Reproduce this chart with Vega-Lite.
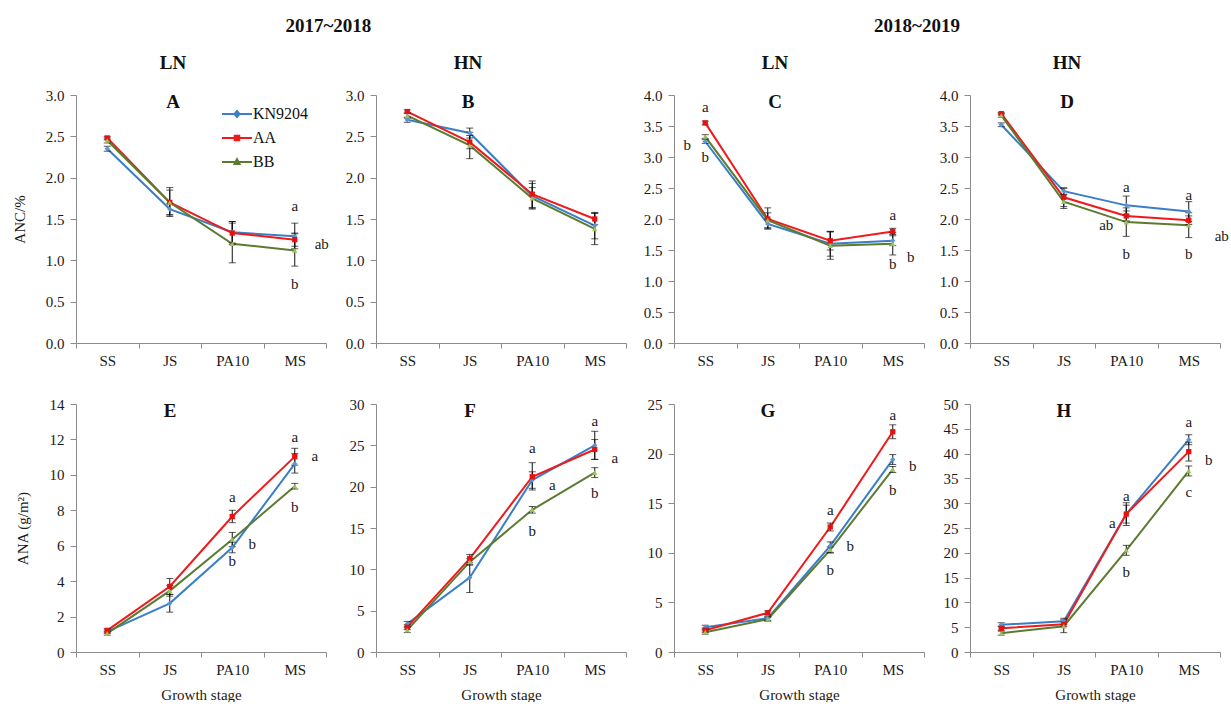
{
  "$schema": "https://vega.github.io/schema/vega-lite/v6.json",
  "autosize": {"type": "pad"},
  "padding": {"left": 12, "top": 17, "right": 2, "bottom": 0},
  "background": "white",
  "datasets": {
    "pts": [
      {"p": "A", "s": "SS", "g": "KN9204", "v": 2.35, "lo": 2.32, "hi": 2.38},
      {"p": "A", "s": "SS", "g": "AA", "v": 2.48, "lo": 2.46, "hi": 2.5},
      {"p": "A", "s": "SS", "g": "BB", "v": 2.45, "lo": 2.42, "hi": 2.48},
      {"p": "A", "s": "JS", "g": "KN9204", "v": 1.62, "lo": 1.55, "hi": 1.69},
      {"p": "A", "s": "JS", "g": "AA", "v": 1.7, "lo": 1.55, "hi": 1.85},
      {"p": "A", "s": "JS", "g": "BB", "v": 1.7, "lo": 1.53, "hi": 1.88},
      {"p": "A", "s": "PA10", "g": "KN9204", "v": 1.34, "lo": 1.21, "hi": 1.47},
      {"p": "A", "s": "PA10", "g": "AA", "v": 1.33, "lo": 1.19, "hi": 1.47},
      {"p": "A", "s": "PA10", "g": "BB", "v": 1.2, "lo": 0.97, "hi": 1.45},
      {"p": "A", "s": "MS", "g": "KN9204", "v": 1.29, "lo": 1.14, "hi": 1.45},
      {"p": "A", "s": "MS", "g": "AA", "v": 1.25, "lo": 1.17, "hi": 1.33},
      {"p": "A", "s": "MS", "g": "BB", "v": 1.12, "lo": 0.93, "hi": 1.32},

      {"p": "B", "s": "SS", "g": "KN9204", "v": 2.7, "lo": 2.67, "hi": 2.73},
      {"p": "B", "s": "SS", "g": "AA", "v": 2.8, "lo": 2.78, "hi": 2.82},
      {"p": "B", "s": "SS", "g": "BB", "v": 2.75, "lo": 2.72, "hi": 2.78},
      {"p": "B", "s": "JS", "g": "KN9204", "v": 2.54, "lo": 2.48, "hi": 2.6},
      {"p": "B", "s": "JS", "g": "AA", "v": 2.43, "lo": 2.35, "hi": 2.51},
      {"p": "B", "s": "JS", "g": "BB", "v": 2.39, "lo": 2.23, "hi": 2.55},
      {"p": "B", "s": "PA10", "g": "KN9204", "v": 1.78, "lo": 1.63, "hi": 1.93},
      {"p": "B", "s": "PA10", "g": "AA", "v": 1.8, "lo": 1.64, "hi": 1.96},
      {"p": "B", "s": "PA10", "g": "BB", "v": 1.75, "lo": 1.62, "hi": 1.88},
      {"p": "B", "s": "MS", "g": "KN9204", "v": 1.42, "lo": 1.26, "hi": 1.58},
      {"p": "B", "s": "MS", "g": "AA", "v": 1.5, "lo": 1.43, "hi": 1.57},
      {"p": "B", "s": "MS", "g": "BB", "v": 1.38, "lo": 1.19, "hi": 1.57},

      {"p": "C", "s": "SS", "g": "KN9204", "v": 3.25, "lo": 3.22, "hi": 3.28},
      {"p": "C", "s": "SS", "g": "AA", "v": 3.55, "lo": 3.52, "hi": 3.58},
      {"p": "C", "s": "SS", "g": "BB", "v": 3.33, "lo": 3.3, "hi": 3.36},
      {"p": "C", "s": "JS", "g": "KN9204", "v": 1.92, "lo": 1.84, "hi": 2.0},
      {"p": "C", "s": "JS", "g": "AA", "v": 2.0, "lo": 1.84, "hi": 2.18},
      {"p": "C", "s": "JS", "g": "BB", "v": 1.98, "lo": 1.86, "hi": 2.1},
      {"p": "C", "s": "PA10", "g": "KN9204", "v": 1.6, "lo": 1.4, "hi": 1.8},
      {"p": "C", "s": "PA10", "g": "AA", "v": 1.65, "lo": 1.5, "hi": 1.8},
      {"p": "C", "s": "PA10", "g": "BB", "v": 1.57, "lo": 1.35, "hi": 1.79},
      {"p": "C", "s": "MS", "g": "KN9204", "v": 1.65, "lo": 1.57, "hi": 1.73},
      {"p": "C", "s": "MS", "g": "AA", "v": 1.8, "lo": 1.75, "hi": 1.85},
      {"p": "C", "s": "MS", "g": "BB", "v": 1.6, "lo": 1.42, "hi": 1.78},

      {"p": "D", "s": "SS", "g": "KN9204", "v": 3.52, "lo": 3.49, "hi": 3.55},
      {"p": "D", "s": "SS", "g": "AA", "v": 3.7, "lo": 3.68, "hi": 3.72},
      {"p": "D", "s": "SS", "g": "BB", "v": 3.67, "lo": 3.64, "hi": 3.7},
      {"p": "D", "s": "JS", "g": "KN9204", "v": 2.45, "lo": 2.4, "hi": 2.5},
      {"p": "D", "s": "JS", "g": "AA", "v": 2.35, "lo": 2.2, "hi": 2.5},
      {"p": "D", "s": "JS", "g": "BB", "v": 2.28, "lo": 2.17, "hi": 2.39},
      {"p": "D", "s": "PA10", "g": "KN9204", "v": 2.22, "lo": 2.07, "hi": 2.37},
      {"p": "D", "s": "PA10", "g": "AA", "v": 2.05, "lo": 1.97, "hi": 2.13},
      {"p": "D", "s": "PA10", "g": "BB", "v": 1.95, "lo": 1.72, "hi": 2.18},
      {"p": "D", "s": "MS", "g": "KN9204", "v": 2.12, "lo": 1.96, "hi": 2.28},
      {"p": "D", "s": "MS", "g": "AA", "v": 1.98, "lo": 1.91, "hi": 2.05},
      {"p": "D", "s": "MS", "g": "BB", "v": 1.9, "lo": 1.7, "hi": 2.1},

      {"p": "E", "s": "SS", "g": "KN9204", "v": 1.15, "lo": 1.05, "hi": 1.25},
      {"p": "E", "s": "SS", "g": "AA", "v": 1.22, "lo": 1.12, "hi": 1.32},
      {"p": "E", "s": "SS", "g": "BB", "v": 1.05, "lo": 0.95, "hi": 1.15},
      {"p": "E", "s": "JS", "g": "KN9204", "v": 2.75, "lo": 2.25, "hi": 3.25},
      {"p": "E", "s": "JS", "g": "AA", "v": 3.7, "lo": 3.25, "hi": 4.15},
      {"p": "E", "s": "JS", "g": "BB", "v": 3.45, "lo": 3.15, "hi": 3.75},
      {"p": "E", "s": "PA10", "g": "KN9204", "v": 5.9, "lo": 5.6, "hi": 6.2},
      {"p": "E", "s": "PA10", "g": "AA", "v": 7.65, "lo": 7.3, "hi": 8.0},
      {"p": "E", "s": "PA10", "g": "BB", "v": 6.35, "lo": 5.95, "hi": 6.75},
      {"p": "E", "s": "MS", "g": "KN9204", "v": 10.62, "lo": 10.1, "hi": 11.2},
      {"p": "E", "s": "MS", "g": "AA", "v": 11.03, "lo": 10.55, "hi": 11.5},
      {"p": "E", "s": "MS", "g": "BB", "v": 9.36, "lo": 9.2, "hi": 9.52},

      {"p": "F", "s": "SS", "g": "KN9204", "v": 3.4, "lo": 3.1, "hi": 3.7},
      {"p": "F", "s": "SS", "g": "AA", "v": 3.0, "lo": 2.7, "hi": 3.3},
      {"p": "F", "s": "SS", "g": "BB", "v": 2.65, "lo": 2.35, "hi": 2.95},
      {"p": "F", "s": "JS", "g": "KN9204", "v": 9.0, "lo": 7.2, "hi": 10.6},
      {"p": "F", "s": "JS", "g": "AA", "v": 11.3, "lo": 10.8, "hi": 11.8},
      {"p": "F", "s": "JS", "g": "BB", "v": 10.9, "lo": 10.5, "hi": 11.3},
      {"p": "F", "s": "PA10", "g": "KN9204", "v": 20.8, "lo": 19.8, "hi": 21.8},
      {"p": "F", "s": "PA10", "g": "AA", "v": 21.2, "lo": 19.6, "hi": 22.9},
      {"p": "F", "s": "PA10", "g": "BB", "v": 17.2, "lo": 16.8, "hi": 17.6},
      {"p": "F", "s": "MS", "g": "KN9204", "v": 25.0, "lo": 23.3, "hi": 26.7},
      {"p": "F", "s": "MS", "g": "AA", "v": 24.5, "lo": 23.3, "hi": 25.7},
      {"p": "F", "s": "MS", "g": "BB", "v": 21.7, "lo": 21.1, "hi": 22.3},

      {"p": "G", "s": "SS", "g": "KN9204", "v": 2.5, "lo": 2.3, "hi": 2.7},
      {"p": "G", "s": "SS", "g": "AA", "v": 2.2, "lo": 2.0, "hi": 2.4},
      {"p": "G", "s": "SS", "g": "BB", "v": 2.0, "lo": 1.8, "hi": 2.2},
      {"p": "G", "s": "JS", "g": "KN9204", "v": 3.4, "lo": 3.2, "hi": 3.6},
      {"p": "G", "s": "JS", "g": "AA", "v": 3.95, "lo": 3.75, "hi": 4.15},
      {"p": "G", "s": "JS", "g": "BB", "v": 3.3, "lo": 3.1, "hi": 3.5},
      {"p": "G", "s": "PA10", "g": "KN9204", "v": 10.7, "lo": 10.0, "hi": 11.1},
      {"p": "G", "s": "PA10", "g": "AA", "v": 12.6, "lo": 12.2, "hi": 13.0},
      {"p": "G", "s": "PA10", "g": "BB", "v": 10.3, "lo": 10.0, "hi": 10.6},
      {"p": "G", "s": "MS", "g": "KN9204", "v": 19.4, "lo": 18.9, "hi": 19.9},
      {"p": "G", "s": "MS", "g": "AA", "v": 22.2, "lo": 21.5, "hi": 22.9},
      {"p": "G", "s": "MS", "g": "BB", "v": 18.4, "lo": 18.1, "hi": 18.7},

      {"p": "H", "s": "SS", "g": "KN9204", "v": 5.5, "lo": 5.1, "hi": 5.9},
      {"p": "H", "s": "SS", "g": "AA", "v": 4.8, "lo": 4.4, "hi": 5.2},
      {"p": "H", "s": "SS", "g": "BB", "v": 3.8, "lo": 3.4, "hi": 4.2},
      {"p": "H", "s": "JS", "g": "KN9204", "v": 6.2, "lo": 5.6, "hi": 6.8},
      {"p": "H", "s": "JS", "g": "AA", "v": 5.6, "lo": 5.1, "hi": 6.1},
      {"p": "H", "s": "JS", "g": "BB", "v": 5.2, "lo": 3.9, "hi": 6.5},
      {"p": "H", "s": "PA10", "g": "KN9204", "v": 27.8, "lo": 25.5, "hi": 30.1},
      {"p": "H", "s": "PA10", "g": "AA", "v": 27.8, "lo": 26.0, "hi": 29.6},
      {"p": "H", "s": "PA10", "g": "BB", "v": 20.5, "lo": 19.5, "hi": 21.5},
      {"p": "H", "s": "MS", "g": "KN9204", "v": 42.8, "lo": 41.8, "hi": 43.8},
      {"p": "H", "s": "MS", "g": "AA", "v": 40.4, "lo": 38.5, "hi": 42.3},
      {"p": "H", "s": "MS", "g": "BB", "v": 36.5, "lo": 35.5, "hi": 37.5}
    ],
    "lab": [
      {"p": "A", "s": "MS", "t": "a", "y": 1.66, "side": "c"},
      {"p": "A", "s": "MS", "t": "b", "y": 0.71, "side": "c"},
      {"p": "A", "s": "MS", "t": "ab", "y": 1.2, "side": "f"},
      {"p": "C", "s": "SS", "t": "a", "y": 3.8, "side": "c"},
      {"p": "C", "s": "SS", "t": "b", "y": 3.0, "side": "c"},
      {"p": "C", "s": "SS", "t": "b", "y": 3.2, "side": "l"},
      {"p": "C", "s": "MS", "t": "a", "y": 2.06, "side": "c"},
      {"p": "C", "s": "MS", "t": "b", "y": 1.28, "side": "c"},
      {"p": "C", "s": "MS", "t": "b", "y": 1.39, "side": "r"},
      {"p": "D", "s": "PA10", "t": "a", "y": 2.51, "side": "c"},
      {"p": "D", "s": "PA10", "t": "b", "y": 1.44, "side": "c"},
      {"p": "D", "s": "PA10", "t": "ab", "y": 1.91, "side": "l"},
      {"p": "D", "s": "MS", "t": "a", "y": 2.39, "side": "c"},
      {"p": "D", "s": "MS", "t": "b", "y": 1.44, "side": "c"},
      {"p": "D", "s": "MS", "t": "ab", "y": 1.72, "side": "f"},
      {"p": "E", "s": "PA10", "t": "a", "y": 8.74, "side": "c"},
      {"p": "E", "s": "PA10", "t": "b", "y": 5.11, "side": "c"},
      {"p": "E", "s": "PA10", "t": "b", "y": 6.1, "side": "r"},
      {"p": "E", "s": "MS", "t": "a", "y": 12.12, "side": "c"},
      {"p": "E", "s": "MS", "t": "b", "y": 8.18, "side": "c"},
      {"p": "E", "s": "MS", "t": "a", "y": 11.05, "side": "r"},
      {"p": "F", "s": "PA10", "t": "a", "y": 24.7, "side": "c"},
      {"p": "F", "s": "PA10", "t": "b", "y": 14.65, "side": "c"},
      {"p": "F", "s": "PA10", "t": "a", "y": 20.2, "side": "r"},
      {"p": "F", "s": "MS", "t": "a", "y": 27.9, "side": "c"},
      {"p": "F", "s": "MS", "t": "b", "y": 19.2, "side": "c"},
      {"p": "F", "s": "MS", "t": "a", "y": 23.5, "side": "r"},
      {"p": "G", "s": "PA10", "t": "a", "y": 14.3, "side": "c"},
      {"p": "G", "s": "PA10", "t": "b", "y": 8.3, "side": "c"},
      {"p": "G", "s": "PA10", "t": "b", "y": 10.7, "side": "r"},
      {"p": "G", "s": "MS", "t": "a", "y": 23.9, "side": "c"},
      {"p": "G", "s": "MS", "t": "b", "y": 16.3, "side": "c"},
      {"p": "G", "s": "MS", "t": "b", "y": 18.7, "side": "r"},
      {"p": "H", "s": "PA10", "t": "a", "y": 31.4, "side": "c"},
      {"p": "H", "s": "PA10", "t": "b", "y": 16.2, "side": "c"},
      {"p": "H", "s": "PA10", "t": "a", "y": 26.1, "side": "l"},
      {"p": "H", "s": "MS", "t": "a", "y": 46.4, "side": "c"},
      {"p": "H", "s": "MS", "t": "c", "y": 32.2, "side": "c"},
      {"p": "H", "s": "MS", "t": "b", "y": 38.7, "side": "r"}
    ]
  },
  "spacing": 16,
  "hconcat": [
    {
      "title": {"text": "2017~2018", "anchor": "middle", "offset": 18, "dx": 9},
      "columns": 2,
      "bounds": "flush",
      "spacing": {"row": 61, "column": 50},
      "resolve": {"legend": {"shape": "independent", "fill": "independent", "stroke": "independent"}},
      "concat": [
        {
          "width": 250, "height": 248,
          "title": {"text": "LN", "subtitle": "A", "frame": "group", "dx": -28, "offset": -24, "subtitlePadding": 20},
          "data": {"name": "pts"},
          "transform": [{"filter": "datum.p === 'A'"}],
          "encoding": {"x": {"field": "s", "type": "nominal", "sort": ["SS", "JS", "PA10", "MS"], "scale": {"type": "band", "paddingInner": 0, "paddingOuter": 0}, "axis": {"title": null, "labelAngle": 0, "tickBand": "extent"}}},
          "layer": [
            {"mark": {"type": "line"}, "encoding": {"y": {"field": "v", "type": "quantitative", "title": "ANC/%", "scale": {"domain": [0, 3], "nice": false}, "axis": {"values": [0, 0.5, 1, 1.5, 2, 2.5, 3], "tickCount": 20, "format": ".1f", "titlePadding": 18}}, "color": {"field": "g", "type": "nominal", "scale": {"domain": ["KN9204", "AA", "BB"], "range": ["#3A7FC6", "#F01A1A", "#5B7B31"]}, "legend": null}}},
            {"mark": {"type": "errorbar", "thickness": 1, "rule": {"color": "#111"}, "ticks": {"size": 7, "color": "#111"}}, "encoding": {"y": {"field": "lo", "type": "quantitative", "title": "ANC/%", "scale": {"domain": [0, 3], "nice": false}}, "y2": {"field": "hi"}}},
            {"transform": [{"filter": "datum.g === 'KN9204'"}], "mark": {"type": "point", "shape": "diamond", "color": "#5A95D5"}, "encoding": {"y": {"field": "v", "type": "quantitative", "title": "ANC/%", "scale": {"domain": [0, 3], "nice": false}}}},
            {"transform": [{"filter": "datum.g === 'AA'"}], "mark": {"type": "point", "shape": "square", "color": "#E81010"}, "encoding": {"y": {"field": "v", "type": "quantitative", "title": "ANC/%", "scale": {"domain": [0, 3], "nice": false}}}},
            {"transform": [{"filter": "datum.g === 'BB'"}], "mark": {"type": "point", "shape": "triangle-up", "color": "#9DC05A"}, "encoding": {"y": {"field": "v", "type": "quantitative", "title": "ANC/%", "scale": {"domain": [0, 3], "nice": false}}}},
            {"transform": [{"filter": "datum.p === 'legend only'"}], "mark": {"type": "point", "filled": true, "strokeWidth": 2},
              "encoding": {
                "y": {"field": "v", "type": "quantitative", "title": "ANC/%", "scale": {"domain": [0, 3], "nice": false}},
                "shape": {"field": "g", "type": "nominal", "scale": {"domain": ["KN9204", "AA", "BB"], "range": ["M-3,0H3M0,-0.6L0.5,0L0,0.6L-0.5,0Z", "M-3,0H3M-0.45,-0.45H0.45V0.45H-0.45Z", "M-3,0H3M0,-0.55L0.5,0.4H-0.5Z"]},
                  "legend": {"orient": "none", "legendX": 153, "legendY": 11, "title": null, "symbolSize": 100, "symbolStrokeWidth": 2, "symbolOpacity": 1, "labelOffset": 8, "labelFontSize": 16, "labelFont": "Liberation Serif", "labelColor": "#111", "rowPadding": 8}},
                "fill": {"field": "g", "type": "nominal", "scale": {"domain": ["KN9204", "AA", "BB"], "range": ["#5A95D5", "#E81010", "#9DC05A"]},
                  "legend": {"orient": "none", "legendX": 153, "legendY": 11, "title": null, "symbolSize": 100, "symbolStrokeWidth": 2, "symbolOpacity": 1, "labelOffset": 8, "labelFontSize": 16, "labelFont": "Liberation Serif", "labelColor": "#111", "rowPadding": 8}},
                "stroke": {"field": "g", "type": "nominal", "scale": {"domain": ["KN9204", "AA", "BB"], "range": ["#3A7FC6", "#F01A1A", "#5B7B31"]},
                  "legend": {"orient": "none", "legendX": 153, "legendY": 11, "title": null, "symbolSize": 100, "symbolStrokeWidth": 2, "symbolOpacity": 1, "labelOffset": 8, "labelFontSize": 16, "labelFont": "Liberation Serif", "labelColor": "#111", "rowPadding": 8}}
              }},
            {"data": {"name": "lab"}, "transform": [{"filter": "datum.p === 'A' && datum.side === 'c'"}], "mark": {"type": "text"}, "encoding": {"y": {"field": "y", "type": "quantitative", "title": "ANC/%", "scale": {"domain": [0, 3], "nice": false}}, "text": {"field": "t"}}},
            {"data": {"name": "lab"}, "transform": [{"filter": "datum.p === 'A' && datum.side === 'f'"}], "mark": {"type": "text", "dx": 27}, "encoding": {"y": {"field": "y", "type": "quantitative", "title": "ANC/%", "scale": {"domain": [0, 3], "nice": false}}, "text": {"field": "t"}}}
          ]
        },
        {
          "width": 250, "height": 248,
          "title": {"text": "HN", "subtitle": "B", "frame": "group", "dx": -33, "offset": -24, "subtitlePadding": 20},
          "data": {"name": "pts"},
          "transform": [{"filter": "datum.p === 'B'"}],
          "encoding": {"x": {"field": "s", "type": "nominal", "sort": ["SS", "JS", "PA10", "MS"], "scale": {"type": "band", "paddingInner": 0, "paddingOuter": 0}, "axis": {"title": null, "labelAngle": 0, "tickBand": "extent"}}},
          "layer": [
            {"mark": {"type": "line"}, "encoding": {"y": {"field": "v", "type": "quantitative", "title": null, "scale": {"domain": [0, 3], "nice": false}, "axis": {"values": [0, 0.5, 1, 1.5, 2, 2.5, 3], "tickCount": 20, "format": ".1f"}}, "color": {"field": "g", "type": "nominal", "scale": {"domain": ["KN9204", "AA", "BB"], "range": ["#3A7FC6", "#F01A1A", "#5B7B31"]}, "legend": null}}},
            {"mark": {"type": "errorbar", "thickness": 1, "rule": {"color": "#111"}, "ticks": {"size": 7, "color": "#111"}}, "encoding": {"y": {"field": "lo", "type": "quantitative", "title": null, "scale": {"domain": [0, 3], "nice": false}}, "y2": {"field": "hi"}}},
            {"transform": [{"filter": "datum.g === 'KN9204'"}], "mark": {"type": "point", "shape": "diamond", "color": "#5A95D5"}, "encoding": {"y": {"field": "v", "type": "quantitative", "title": null, "scale": {"domain": [0, 3], "nice": false}}}},
            {"transform": [{"filter": "datum.g === 'AA'"}], "mark": {"type": "point", "shape": "square", "color": "#E81010"}, "encoding": {"y": {"field": "v", "type": "quantitative", "title": null, "scale": {"domain": [0, 3], "nice": false}}}},
            {"transform": [{"filter": "datum.g === 'BB'"}], "mark": {"type": "point", "shape": "triangle-up", "color": "#9DC05A"}, "encoding": {"y": {"field": "v", "type": "quantitative", "title": null, "scale": {"domain": [0, 3], "nice": false}}}}
          ]
        },
        {
          "width": 250, "height": 248,
          "title": {"text": "E", "frame": "group", "dx": -31, "offset": -24},
          "data": {"name": "pts"},
          "transform": [{"filter": "datum.p === 'E'"}],
          "encoding": {"x": {"field": "s", "type": "nominal", "sort": ["SS", "JS", "PA10", "MS"], "scale": {"type": "band", "paddingInner": 0, "paddingOuter": 0}, "axis": {"title": "Growth stage", "labelAngle": 0, "tickBand": "extent"}}},
          "layer": [
            {"mark": {"type": "line"}, "encoding": {"y": {"field": "v", "type": "quantitative", "title": "ANA (g/m²)", "scale": {"domain": [0, 14], "nice": false}, "axis": {"values": [0, 2, 4, 6, 8, 10, 12, 14], "tickCount": 20, "format": "d", "titlePadding": 19}}, "color": {"field": "g", "type": "nominal", "scale": {"domain": ["KN9204", "AA", "BB"], "range": ["#3A7FC6", "#F01A1A", "#5B7B31"]}, "legend": null}}},
            {"mark": {"type": "errorbar", "thickness": 1, "rule": {"color": "#111"}, "ticks": {"size": 7, "color": "#111"}}, "encoding": {"y": {"field": "lo", "type": "quantitative", "title": "ANA (g/m²)", "scale": {"domain": [0, 14], "nice": false}}, "y2": {"field": "hi"}}},
            {"transform": [{"filter": "datum.g === 'KN9204'"}], "mark": {"type": "point", "shape": "diamond", "color": "#5A95D5"}, "encoding": {"y": {"field": "v", "type": "quantitative", "title": "ANA (g/m²)", "scale": {"domain": [0, 14], "nice": false}}}},
            {"transform": [{"filter": "datum.g === 'AA'"}], "mark": {"type": "point", "shape": "square", "color": "#E81010"}, "encoding": {"y": {"field": "v", "type": "quantitative", "title": "ANA (g/m²)", "scale": {"domain": [0, 14], "nice": false}}}},
            {"transform": [{"filter": "datum.g === 'BB'"}], "mark": {"type": "point", "shape": "triangle-up", "color": "#9DC05A"}, "encoding": {"y": {"field": "v", "type": "quantitative", "title": "ANA (g/m²)", "scale": {"domain": [0, 14], "nice": false}}}},
            {"data": {"name": "lab"}, "transform": [{"filter": "datum.p === 'E' && datum.side === 'c'"}], "mark": {"type": "text"}, "encoding": {"y": {"field": "y", "type": "quantitative", "title": "ANA (g/m²)", "scale": {"domain": [0, 14], "nice": false}}, "text": {"field": "t"}}},
            {"data": {"name": "lab"}, "transform": [{"filter": "datum.p === 'E' && datum.side === 'r'"}], "mark": {"type": "text", "dx": 20}, "encoding": {"y": {"field": "y", "type": "quantitative", "title": "ANA (g/m²)", "scale": {"domain": [0, 14], "nice": false}}, "text": {"field": "t"}}}
          ]
        },
        {
          "width": 250, "height": 248,
          "title": {"text": "F", "frame": "group", "dx": -31, "offset": -24},
          "data": {"name": "pts"},
          "transform": [{"filter": "datum.p === 'F'"}],
          "encoding": {"x": {"field": "s", "type": "nominal", "sort": ["SS", "JS", "PA10", "MS"], "scale": {"type": "band", "paddingInner": 0, "paddingOuter": 0}, "axis": {"title": "Growth stage", "labelAngle": 0, "tickBand": "extent"}}},
          "layer": [
            {"mark": {"type": "line"}, "encoding": {"y": {"field": "v", "type": "quantitative", "title": null, "scale": {"domain": [0, 30], "nice": false}, "axis": {"values": [0, 5, 10, 15, 20, 25, 30], "tickCount": 20, "format": "d"}}, "color": {"field": "g", "type": "nominal", "scale": {"domain": ["KN9204", "AA", "BB"], "range": ["#3A7FC6", "#F01A1A", "#5B7B31"]}, "legend": null}}},
            {"mark": {"type": "errorbar", "thickness": 1, "rule": {"color": "#111"}, "ticks": {"size": 7, "color": "#111"}}, "encoding": {"y": {"field": "lo", "type": "quantitative", "title": null, "scale": {"domain": [0, 30], "nice": false}}, "y2": {"field": "hi"}}},
            {"transform": [{"filter": "datum.g === 'KN9204'"}], "mark": {"type": "point", "shape": "diamond", "color": "#5A95D5"}, "encoding": {"y": {"field": "v", "type": "quantitative", "title": null, "scale": {"domain": [0, 30], "nice": false}}}},
            {"transform": [{"filter": "datum.g === 'AA'"}], "mark": {"type": "point", "shape": "square", "color": "#E81010"}, "encoding": {"y": {"field": "v", "type": "quantitative", "title": null, "scale": {"domain": [0, 30], "nice": false}}}},
            {"transform": [{"filter": "datum.g === 'BB'"}], "mark": {"type": "point", "shape": "triangle-up", "color": "#9DC05A"}, "encoding": {"y": {"field": "v", "type": "quantitative", "title": null, "scale": {"domain": [0, 30], "nice": false}}}},
            {"data": {"name": "lab"}, "transform": [{"filter": "datum.p === 'F' && datum.side === 'c'"}], "mark": {"type": "text"}, "encoding": {"y": {"field": "y", "type": "quantitative", "title": null, "scale": {"domain": [0, 30], "nice": false}}, "text": {"field": "t"}}},
            {"data": {"name": "lab"}, "transform": [{"filter": "datum.p === 'F' && datum.side === 'r'"}], "mark": {"type": "text", "dx": 20}, "encoding": {"y": {"field": "y", "type": "quantitative", "title": null, "scale": {"domain": [0, 30], "nice": false}}, "text": {"field": "t"}}}
          ]
        }
      ]
    },
    {
      "title": {"text": "2018~2019", "anchor": "middle", "offset": 18, "dx": -19},
      "columns": 2,
      "bounds": "flush",
      "spacing": {"row": 61, "column": 46},
      "concat": [
        {
          "width": 250, "height": 248,
          "title": {"text": "LN", "subtitle": "C", "frame": "group", "dx": -24, "offset": -24, "subtitlePadding": 20},
          "data": {"name": "pts"},
          "transform": [{"filter": "datum.p === 'C'"}],
          "encoding": {"x": {"field": "s", "type": "nominal", "sort": ["SS", "JS", "PA10", "MS"], "scale": {"type": "band", "paddingInner": 0, "paddingOuter": 0}, "axis": {"title": null, "labelAngle": 0, "tickBand": "extent"}}},
          "layer": [
            {"mark": {"type": "line"}, "encoding": {"y": {"field": "v", "type": "quantitative", "title": null, "scale": {"domain": [0, 4], "nice": false}, "axis": {"values": [0, 0.5, 1, 1.5, 2, 2.5, 3, 3.5, 4], "tickCount": 20, "format": ".1f"}}, "color": {"field": "g", "type": "nominal", "scale": {"domain": ["KN9204", "AA", "BB"], "range": ["#3A7FC6", "#F01A1A", "#5B7B31"]}, "legend": null}}},
            {"mark": {"type": "errorbar", "thickness": 1, "rule": {"color": "#111"}, "ticks": {"size": 7, "color": "#111"}}, "encoding": {"y": {"field": "lo", "type": "quantitative", "title": null, "scale": {"domain": [0, 4], "nice": false}}, "y2": {"field": "hi"}}},
            {"transform": [{"filter": "datum.g === 'KN9204'"}], "mark": {"type": "point", "shape": "diamond", "color": "#5A95D5"}, "encoding": {"y": {"field": "v", "type": "quantitative", "title": null, "scale": {"domain": [0, 4], "nice": false}}}},
            {"transform": [{"filter": "datum.g === 'AA'"}], "mark": {"type": "point", "shape": "square", "color": "#E81010"}, "encoding": {"y": {"field": "v", "type": "quantitative", "title": null, "scale": {"domain": [0, 4], "nice": false}}}},
            {"transform": [{"filter": "datum.g === 'BB'"}], "mark": {"type": "point", "shape": "triangle-up", "color": "#9DC05A"}, "encoding": {"y": {"field": "v", "type": "quantitative", "title": null, "scale": {"domain": [0, 4], "nice": false}}}},
            {"data": {"name": "lab"}, "transform": [{"filter": "datum.p === 'C' && datum.side === 'c'"}], "mark": {"type": "text"}, "encoding": {"y": {"field": "y", "type": "quantitative", "title": null, "scale": {"domain": [0, 4], "nice": false}}, "text": {"field": "t"}}},
            {"data": {"name": "lab"}, "transform": [{"filter": "datum.p === 'C' && datum.side === 'l'"}], "mark": {"type": "text", "dx": -18}, "encoding": {"y": {"field": "y", "type": "quantitative", "title": null, "scale": {"domain": [0, 4], "nice": false}}, "text": {"field": "t"}}},
            {"data": {"name": "lab"}, "transform": [{"filter": "datum.p === 'C' && datum.side === 'r'"}], "mark": {"type": "text", "dx": 18}, "encoding": {"y": {"field": "y", "type": "quantitative", "title": null, "scale": {"domain": [0, 4], "nice": false}}, "text": {"field": "t"}}}
          ]
        },
        {
          "width": 250, "height": 248,
          "title": {"text": "HN", "subtitle": "D", "frame": "group", "dx": -28, "offset": -24, "subtitlePadding": 20},
          "data": {"name": "pts"},
          "transform": [{"filter": "datum.p === 'D'"}],
          "encoding": {"x": {"field": "s", "type": "nominal", "sort": ["SS", "JS", "PA10", "MS"], "scale": {"type": "band", "paddingInner": 0, "paddingOuter": 0}, "axis": {"title": null, "labelAngle": 0, "tickBand": "extent"}}},
          "layer": [
            {"mark": {"type": "line"}, "encoding": {"y": {"field": "v", "type": "quantitative", "title": null, "scale": {"domain": [0, 4], "nice": false}, "axis": {"values": [0, 0.5, 1, 1.5, 2, 2.5, 3, 3.5, 4], "tickCount": 20, "format": ".1f"}}, "color": {"field": "g", "type": "nominal", "scale": {"domain": ["KN9204", "AA", "BB"], "range": ["#3A7FC6", "#F01A1A", "#5B7B31"]}, "legend": null}}},
            {"mark": {"type": "errorbar", "thickness": 1, "rule": {"color": "#111"}, "ticks": {"size": 7, "color": "#111"}}, "encoding": {"y": {"field": "lo", "type": "quantitative", "title": null, "scale": {"domain": [0, 4], "nice": false}}, "y2": {"field": "hi"}}},
            {"transform": [{"filter": "datum.g === 'KN9204'"}], "mark": {"type": "point", "shape": "diamond", "color": "#5A95D5"}, "encoding": {"y": {"field": "v", "type": "quantitative", "title": null, "scale": {"domain": [0, 4], "nice": false}}}},
            {"transform": [{"filter": "datum.g === 'AA'"}], "mark": {"type": "point", "shape": "square", "color": "#E81010"}, "encoding": {"y": {"field": "v", "type": "quantitative", "title": null, "scale": {"domain": [0, 4], "nice": false}}}},
            {"transform": [{"filter": "datum.g === 'BB'"}], "mark": {"type": "point", "shape": "triangle-up", "color": "#9DC05A"}, "encoding": {"y": {"field": "v", "type": "quantitative", "title": null, "scale": {"domain": [0, 4], "nice": false}}}},
            {"data": {"name": "lab"}, "transform": [{"filter": "datum.p === 'D' && datum.side === 'c'"}], "mark": {"type": "text"}, "encoding": {"y": {"field": "y", "type": "quantitative", "title": null, "scale": {"domain": [0, 4], "nice": false}}, "text": {"field": "t"}}},
            {"data": {"name": "lab"}, "transform": [{"filter": "datum.p === 'D' && datum.side === 'l'"}], "mark": {"type": "text", "dx": -20}, "encoding": {"y": {"field": "y", "type": "quantitative", "title": null, "scale": {"domain": [0, 4], "nice": false}}, "text": {"field": "t"}}},
            {"data": {"name": "lab"}, "transform": [{"filter": "datum.p === 'D' && datum.side === 'f'"}], "mark": {"type": "text", "dx": 33}, "encoding": {"y": {"field": "y", "type": "quantitative", "title": null, "scale": {"domain": [0, 4], "nice": false}}, "text": {"field": "t"}}}
          ]
        },
        {
          "width": 250, "height": 248,
          "title": {"text": "G", "frame": "group", "dx": -31, "offset": -24},
          "data": {"name": "pts"},
          "transform": [{"filter": "datum.p === 'G'"}],
          "encoding": {"x": {"field": "s", "type": "nominal", "sort": ["SS", "JS", "PA10", "MS"], "scale": {"type": "band", "paddingInner": 0, "paddingOuter": 0}, "axis": {"title": "Growth stage", "labelAngle": 0, "tickBand": "extent"}}},
          "layer": [
            {"mark": {"type": "line"}, "encoding": {"y": {"field": "v", "type": "quantitative", "title": null, "scale": {"domain": [0, 25], "nice": false}, "axis": {"values": [0, 5, 10, 15, 20, 25], "tickCount": 20, "format": "d"}}, "color": {"field": "g", "type": "nominal", "scale": {"domain": ["KN9204", "AA", "BB"], "range": ["#3A7FC6", "#F01A1A", "#5B7B31"]}, "legend": null}}},
            {"mark": {"type": "errorbar", "thickness": 1, "rule": {"color": "#111"}, "ticks": {"size": 7, "color": "#111"}}, "encoding": {"y": {"field": "lo", "type": "quantitative", "title": null, "scale": {"domain": [0, 25], "nice": false}}, "y2": {"field": "hi"}}},
            {"transform": [{"filter": "datum.g === 'KN9204'"}], "mark": {"type": "point", "shape": "diamond", "color": "#5A95D5"}, "encoding": {"y": {"field": "v", "type": "quantitative", "title": null, "scale": {"domain": [0, 25], "nice": false}}}},
            {"transform": [{"filter": "datum.g === 'AA'"}], "mark": {"type": "point", "shape": "square", "color": "#E81010"}, "encoding": {"y": {"field": "v", "type": "quantitative", "title": null, "scale": {"domain": [0, 25], "nice": false}}}},
            {"transform": [{"filter": "datum.g === 'BB'"}], "mark": {"type": "point", "shape": "triangle-up", "color": "#9DC05A"}, "encoding": {"y": {"field": "v", "type": "quantitative", "title": null, "scale": {"domain": [0, 25], "nice": false}}}},
            {"data": {"name": "lab"}, "transform": [{"filter": "datum.p === 'G' && datum.side === 'c'"}], "mark": {"type": "text"}, "encoding": {"y": {"field": "y", "type": "quantitative", "title": null, "scale": {"domain": [0, 25], "nice": false}}, "text": {"field": "t"}}},
            {"data": {"name": "lab"}, "transform": [{"filter": "datum.p === 'G' && datum.side === 'r'"}], "mark": {"type": "text", "dx": 20}, "encoding": {"y": {"field": "y", "type": "quantitative", "title": null, "scale": {"domain": [0, 25], "nice": false}}, "text": {"field": "t"}}}
          ]
        },
        {
          "width": 250, "height": 248,
          "title": {"text": "H", "frame": "group", "dx": -31, "offset": -24},
          "data": {"name": "pts"},
          "transform": [{"filter": "datum.p === 'H'"}],
          "encoding": {"x": {"field": "s", "type": "nominal", "sort": ["SS", "JS", "PA10", "MS"], "scale": {"type": "band", "paddingInner": 0, "paddingOuter": 0}, "axis": {"title": "Growth stage", "labelAngle": 0, "tickBand": "extent"}}},
          "layer": [
            {"mark": {"type": "line"}, "encoding": {"y": {"field": "v", "type": "quantitative", "title": null, "scale": {"domain": [0, 50], "nice": false}, "axis": {"values": [0, 5, 10, 15, 20, 25, 30, 35, 40, 45, 50], "tickCount": 20, "format": "d"}}, "color": {"field": "g", "type": "nominal", "scale": {"domain": ["KN9204", "AA", "BB"], "range": ["#3A7FC6", "#F01A1A", "#5B7B31"]}, "legend": null}}},
            {"mark": {"type": "errorbar", "thickness": 1, "rule": {"color": "#111"}, "ticks": {"size": 7, "color": "#111"}}, "encoding": {"y": {"field": "lo", "type": "quantitative", "title": null, "scale": {"domain": [0, 50], "nice": false}}, "y2": {"field": "hi"}}},
            {"transform": [{"filter": "datum.g === 'KN9204'"}], "mark": {"type": "point", "shape": "diamond", "color": "#5A95D5"}, "encoding": {"y": {"field": "v", "type": "quantitative", "title": null, "scale": {"domain": [0, 50], "nice": false}}}},
            {"transform": [{"filter": "datum.g === 'AA'"}], "mark": {"type": "point", "shape": "square", "color": "#E81010"}, "encoding": {"y": {"field": "v", "type": "quantitative", "title": null, "scale": {"domain": [0, 50], "nice": false}}}},
            {"transform": [{"filter": "datum.g === 'BB'"}], "mark": {"type": "point", "shape": "triangle-up", "color": "#9DC05A"}, "encoding": {"y": {"field": "v", "type": "quantitative", "title": null, "scale": {"domain": [0, 50], "nice": false}}}},
            {"data": {"name": "lab"}, "transform": [{"filter": "datum.p === 'H' && datum.side === 'c'"}], "mark": {"type": "text"}, "encoding": {"y": {"field": "y", "type": "quantitative", "title": null, "scale": {"domain": [0, 50], "nice": false}}, "text": {"field": "t"}}},
            {"data": {"name": "lab"}, "transform": [{"filter": "datum.p === 'H' && datum.side === 'l'"}], "mark": {"type": "text", "dx": -14}, "encoding": {"y": {"field": "y", "type": "quantitative", "title": null, "scale": {"domain": [0, 50], "nice": false}}, "text": {"field": "t"}}},
            {"data": {"name": "lab"}, "transform": [{"filter": "datum.p === 'H' && datum.side === 'r'"}], "mark": {"type": "text", "dx": 20}, "encoding": {"y": {"field": "y", "type": "quantitative", "title": null, "scale": {"domain": [0, 50], "nice": false}}, "text": {"field": "t"}}}
          ]
        }
      ]
    }
  ],
  "config": {
    "font": "Liberation Serif",
    "view": {"stroke": null},
    "axis": {"grid": false, "domainColor": "#8c8c8c", "tickColor": "#8c8c8c", "domainWidth": 1, "tickWidth": 1, "tickSize": 5, "labelFont": "Liberation Serif", "labelFontSize": 15, "labelColor": "#1a1a1a", "labelPadding": 5, "titleFont": "Liberation Serif", "titleFontSize": 15, "titleFontWeight": "normal", "titleColor": "#1a1a1a"},
    "axisX": {"titlePadding": 10},
    "axisY": {"tickSize": 6, "labelPadding": 6},
    "legend": {"labelFont": "Liberation Serif", "labelFontSize": 16, "labelColor": "#111"},
    "title": {"font": "Liberation Serif", "fontSize": 19, "fontWeight": "bold", "color": "#111", "subtitleFont": "Liberation Serif", "subtitleFontSize": 19, "subtitleFontWeight": "bold", "subtitleColor": "#111", "anchor": "middle"},
    "line": {"strokeWidth": 2},
    "point": {"filled": true, "size": 28, "opacity": 1},
    "text": {"font": "Liberation Serif", "fontSize": 15, "color": "#1a1a1a", "baseline": "middle"}
  }
}
